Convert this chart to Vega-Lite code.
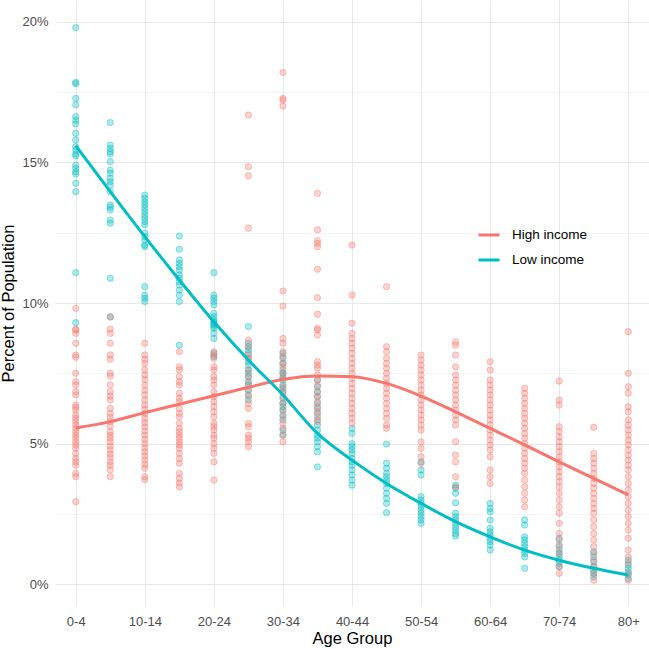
{
"$schema": "https://vega.github.io/schema/vega-lite/v6.json",
"width": 594, "height": 606,
"autosize": {"type": "none"},
"padding": {"left": 55, "top": 0, "right": 0, "bottom": 43},
"background": "white",
"config": {
 "view": {"stroke": null},
 "font": "Liberation Sans",
 "axis": {"domain": false, "ticks": false, "tickSize": 0, "gridColor": "#e8e8e8", "gridWidth": 1, "labelColor": "#4d4d4d", "labelFontSize": 13, "titleFontSize": 16.5, "titleFontWeight": "normal", "titleColor": "#000000"}
},
"datasets": {
 "points": [
{"age":"0-4","income":"Low income","pct":19.8},{"age":"0-4","income":"Low income","pct":17.85},{"age":"0-4","income":"Low income","pct":17.8},{"age":"0-4","income":"Low income","pct":17.28},{"age":"0-4","income":"Low income","pct":17.05},{"age":"0-4","income":"Low income","pct":16.63},{"age":"0-4","income":"Low income","pct":16.5},{"age":"0-4","income":"Low income","pct":16.37},{"age":"0-4","income":"Low income","pct":16.04},{"age":"0-4","income":"Low income","pct":15.8},{"age":"0-4","income":"Low income","pct":15.56},{"age":"0-4","income":"Low income","pct":15.44},{"age":"0-4","income":"Low income","pct":15.3},{"age":"0-4","income":"Low income","pct":15.23},{"age":"0-4","income":"Low income","pct":14.9},{"age":"0-4","income":"Low income","pct":14.79},{"age":"0-4","income":"Low income","pct":14.67},{"age":"0-4","income":"Low income","pct":14.59},{"age":"0-4","income":"Low income","pct":14.26},{"age":"0-4","income":"Low income","pct":13.96},{"age":"0-4","income":"Low income","pct":11.08},{"age":"0-4","income":"Low income","pct":9.3},
{"age":"0-4","income":"High income","pct":9.81},{"age":"0-4","income":"High income","pct":9.07},{"age":"0-4","income":"High income","pct":9.04},{"age":"0-4","income":"High income","pct":8.92},{"age":"0-4","income":"High income","pct":8.57},{"age":"0-4","income":"High income","pct":8.15},{"age":"0-4","income":"High income","pct":8.07},{"age":"0-4","income":"High income","pct":7.5},{"age":"0-4","income":"High income","pct":7.2},{"age":"0-4","income":"High income","pct":7.08},{"age":"0-4","income":"High income","pct":6.84},{"age":"0-4","income":"High income","pct":6.73},{"age":"0-4","income":"High income","pct":6.37},{"age":"0-4","income":"High income","pct":6.29},{"age":"0-4","income":"High income","pct":6.19},{"age":"0-4","income":"High income","pct":6.01},{"age":"0-4","income":"High income","pct":5.9},{"age":"0-4","income":"High income","pct":5.78},{"age":"0-4","income":"High income","pct":5.66},{"age":"0-4","income":"High income","pct":5.54},{"age":"0-4","income":"High income","pct":5.42},{"age":"0-4","income":"High income","pct":5.3},{"age":"0-4","income":"High income","pct":5.19},{"age":"0-4","income":"High income","pct":5.06},{"age":"0-4","income":"High income","pct":4.95},{"age":"0-4","income":"High income","pct":4.83},{"age":"0-4","income":"High income","pct":4.65},{"age":"0-4","income":"High income","pct":4.47},{"age":"0-4","income":"High income","pct":4.35},{"age":"0-4","income":"High income","pct":4.23},{"age":"0-4","income":"High income","pct":3.94},{"age":"0-4","income":"High income","pct":3.82},{"age":"0-4","income":"High income","pct":2.93},
{"age":"5-9","income":"Low income","pct":16.42},{"age":"5-9","income":"Low income","pct":15.62},{"age":"5-9","income":"Low income","pct":15.5},{"age":"5-9","income":"Low income","pct":15.38},{"age":"5-9","income":"Low income","pct":15.3},{"age":"5-9","income":"Low income","pct":15.03},{"age":"5-9","income":"Low income","pct":14.73},{"age":"5-9","income":"Low income","pct":14.62},{"age":"5-9","income":"Low income","pct":14.44},{"age":"5-9","income":"Low income","pct":14.32},{"age":"5-9","income":"Low income","pct":14.2},{"age":"5-9","income":"Low income","pct":13.96},{"age":"5-9","income":"Low income","pct":13.49},{"age":"5-9","income":"Low income","pct":13.41},{"age":"5-9","income":"Low income","pct":13.31},{"age":"5-9","income":"Low income","pct":12.95},{"age":"5-9","income":"Low income","pct":12.84},{"age":"5-9","income":"Low income","pct":10.88},{"age":"5-9","income":"Low income","pct":9.51},
{"age":"5-9","income":"High income","pct":9.5},{"age":"5-9","income":"High income","pct":9.07},{"age":"5-9","income":"High income","pct":8.92},{"age":"5-9","income":"High income","pct":8.57},{"age":"5-9","income":"High income","pct":8.15},{"age":"5-9","income":"High income","pct":8.0},{"age":"5-9","income":"High income","pct":7.5},{"age":"5-9","income":"High income","pct":7.4},{"age":"5-9","income":"High income","pct":7.08},{"age":"5-9","income":"High income","pct":6.84},{"age":"5-9","income":"High income","pct":6.69},{"age":"5-9","income":"High income","pct":6.55},{"age":"5-9","income":"High income","pct":6.25},{"age":"5-9","income":"High income","pct":6.07},{"age":"5-9","income":"High income","pct":5.93},{"age":"5-9","income":"High income","pct":5.78},{"age":"5-9","income":"High income","pct":5.62},{"age":"5-9","income":"High income","pct":5.42},{"age":"5-9","income":"High income","pct":5.3},{"age":"5-9","income":"High income","pct":5.19},{"age":"5-9","income":"High income","pct":5.06},{"age":"5-9","income":"High income","pct":4.91},{"age":"5-9","income":"High income","pct":4.77},{"age":"5-9","income":"High income","pct":4.63},{"age":"5-9","income":"High income","pct":4.51},{"age":"5-9","income":"High income","pct":4.35},{"age":"5-9","income":"High income","pct":4.23},{"age":"5-9","income":"High income","pct":4.06},{"age":"5-9","income":"High income","pct":3.82},
{"age":"10-14","income":"Low income","pct":13.84},{"age":"10-14","income":"Low income","pct":13.72},{"age":"10-14","income":"Low income","pct":13.6},{"age":"10-14","income":"Low income","pct":13.49},{"age":"10-14","income":"Low income","pct":13.37},{"age":"10-14","income":"Low income","pct":13.25},{"age":"10-14","income":"Low income","pct":13.13},{"age":"10-14","income":"Low income","pct":13.01},{"age":"10-14","income":"Low income","pct":12.89},{"age":"10-14","income":"Low income","pct":12.78},{"age":"10-14","income":"Low income","pct":12.48},{"age":"10-14","income":"Low income","pct":12.36},{"age":"10-14","income":"Low income","pct":12.24},{"age":"10-14","income":"Low income","pct":12.06},{"age":"10-14","income":"Low income","pct":12.0},{"age":"10-14","income":"Low income","pct":10.58},{"age":"10-14","income":"Low income","pct":10.28},{"age":"10-14","income":"Low income","pct":10.17},{"age":"10-14","income":"Low income","pct":10.05},
{"age":"10-14","income":"High income","pct":8.57},{"age":"10-14","income":"High income","pct":8.15},{"age":"10-14","income":"High income","pct":8.0},{"age":"10-14","income":"High income","pct":7.85},{"age":"10-14","income":"High income","pct":7.62},{"age":"10-14","income":"High income","pct":7.44},{"age":"10-14","income":"High income","pct":7.28},{"age":"10-14","income":"High income","pct":7.08},{"age":"10-14","income":"High income","pct":6.9},{"age":"10-14","income":"High income","pct":6.73},{"age":"10-14","income":"High income","pct":6.55},{"age":"10-14","income":"High income","pct":6.37},{"age":"10-14","income":"High income","pct":6.22},{"age":"10-14","income":"High income","pct":6.07},{"age":"10-14","income":"High income","pct":5.9},{"age":"10-14","income":"High income","pct":5.74},{"age":"10-14","income":"High income","pct":5.6},{"age":"10-14","income":"High income","pct":5.44},{"age":"10-14","income":"High income","pct":5.3},{"age":"10-14","income":"High income","pct":5.15},{"age":"10-14","income":"High income","pct":5.0},{"age":"10-14","income":"High income","pct":4.85},{"age":"10-14","income":"High income","pct":4.71},{"age":"10-14","income":"High income","pct":4.56},{"age":"10-14","income":"High income","pct":4.41},{"age":"10-14","income":"High income","pct":4.26},{"age":"10-14","income":"High income","pct":4.12},{"age":"10-14","income":"High income","pct":3.82},{"age":"10-14","income":"High income","pct":3.72},
{"age":"15-19","income":"Low income","pct":12.38},{"age":"15-19","income":"Low income","pct":11.91},{"age":"15-19","income":"Low income","pct":11.53},{"age":"15-19","income":"Low income","pct":11.41},{"age":"15-19","income":"Low income","pct":11.29},{"age":"15-19","income":"Low income","pct":11.17},{"age":"15-19","income":"Low income","pct":11.0},{"age":"15-19","income":"Low income","pct":10.88},{"age":"15-19","income":"Low income","pct":10.76},{"age":"15-19","income":"Low income","pct":10.64},{"age":"15-19","income":"Low income","pct":10.46},{"age":"15-19","income":"Low income","pct":10.28},{"age":"15-19","income":"Low income","pct":10.05},{"age":"15-19","income":"Low income","pct":8.5},
{"age":"15-19","income":"High income","pct":8.27},{"age":"15-19","income":"High income","pct":7.73},{"age":"15-19","income":"High income","pct":7.62},{"age":"15-19","income":"High income","pct":7.38},{"age":"15-19","income":"High income","pct":7.2},{"age":"15-19","income":"High income","pct":7.08},{"age":"15-19","income":"High income","pct":6.79},{"age":"15-19","income":"High income","pct":6.61},{"age":"15-19","income":"High income","pct":6.49},{"age":"15-19","income":"High income","pct":6.25},{"age":"15-19","income":"High income","pct":6.07},{"age":"15-19","income":"High income","pct":5.95},{"age":"15-19","income":"High income","pct":5.72},{"age":"15-19","income":"High income","pct":5.54},{"age":"15-19","income":"High income","pct":5.42},{"age":"15-19","income":"High income","pct":5.3},{"age":"15-19","income":"High income","pct":5.19},{"age":"15-19","income":"High income","pct":5.06},{"age":"15-19","income":"High income","pct":4.95},{"age":"15-19","income":"High income","pct":4.83},{"age":"15-19","income":"High income","pct":4.65},{"age":"15-19","income":"High income","pct":4.47},{"age":"15-19","income":"High income","pct":4.3},{"age":"15-19","income":"High income","pct":3.94},{"age":"15-19","income":"High income","pct":3.76},{"age":"15-19","income":"High income","pct":3.6},{"age":"15-19","income":"High income","pct":3.46},
{"age":"20-24","income":"Low income","pct":11.08},{"age":"20-24","income":"Low income","pct":10.28},{"age":"20-24","income":"Low income","pct":10.17},{"age":"20-24","income":"Low income","pct":10.05},{"age":"20-24","income":"Low income","pct":9.93},{"age":"20-24","income":"Low income","pct":9.63},{"age":"20-24","income":"Low income","pct":9.51},{"age":"20-24","income":"Low income","pct":9.4},{"age":"20-24","income":"Low income","pct":9.28},{"age":"20-24","income":"Low income","pct":9.16},{"age":"20-24","income":"Low income","pct":9.33},{"age":"20-24","income":"Low income","pct":9.22},{"age":"20-24","income":"Low income","pct":9.1},{"age":"20-24","income":"Low income","pct":8.92},{"age":"20-24","income":"Low income","pct":8.74},{"age":"20-24","income":"Low income","pct":8.21},{"age":"20-24","income":"Low income","pct":8.09},
{"age":"20-24","income":"High income","pct":8.27},{"age":"20-24","income":"High income","pct":8.15},{"age":"20-24","income":"High income","pct":8.03},{"age":"20-24","income":"High income","pct":7.73},{"age":"20-24","income":"High income","pct":7.62},{"age":"20-24","income":"High income","pct":7.38},{"age":"20-24","income":"High income","pct":7.26},{"age":"20-24","income":"High income","pct":7.08},{"age":"20-24","income":"High income","pct":6.84},{"age":"20-24","income":"High income","pct":6.67},{"age":"20-24","income":"High income","pct":6.49},{"age":"20-24","income":"High income","pct":6.31},{"age":"20-24","income":"High income","pct":6.13},{"age":"20-24","income":"High income","pct":5.95},{"age":"20-24","income":"High income","pct":5.72},{"age":"20-24","income":"High income","pct":5.6},{"age":"20-24","income":"High income","pct":5.48},{"age":"20-24","income":"High income","pct":5.3},{"age":"20-24","income":"High income","pct":5.19},{"age":"20-24","income":"High income","pct":5.0},{"age":"20-24","income":"High income","pct":4.83},{"age":"20-24","income":"High income","pct":4.65},{"age":"20-24","income":"High income","pct":4.35},{"age":"20-24","income":"High income","pct":3.7},
{"age":"25-29","income":"Low income","pct":9.16},{"age":"25-29","income":"Low income","pct":8.57},{"age":"25-29","income":"Low income","pct":8.45},{"age":"25-29","income":"Low income","pct":8.33},{"age":"25-29","income":"Low income","pct":8.21},{"age":"25-29","income":"Low income","pct":8.03},{"age":"25-29","income":"Low income","pct":7.91},{"age":"25-29","income":"Low income","pct":7.79},{"age":"25-29","income":"Low income","pct":7.62},{"age":"25-29","income":"Low income","pct":7.5},{"age":"25-29","income":"Low income","pct":7.38},{"age":"25-29","income":"Low income","pct":7.2},{"age":"25-29","income":"Low income","pct":7.08},{"age":"25-29","income":"Low income","pct":6.9},{"age":"25-29","income":"Low income","pct":6.73},{"age":"25-29","income":"Low income","pct":6.55},
{"age":"25-29","income":"High income","pct":16.69},{"age":"25-29","income":"High income","pct":14.85},{"age":"25-29","income":"High income","pct":14.52},{"age":"25-29","income":"High income","pct":12.66},{"age":"25-29","income":"High income","pct":8.68},{"age":"25-29","income":"High income","pct":8.45},{"age":"25-29","income":"High income","pct":8.15},{"age":"25-29","income":"High income","pct":8.03},{"age":"25-29","income":"High income","pct":7.62},{"age":"25-29","income":"High income","pct":7.38},{"age":"25-29","income":"High income","pct":7.14},{"age":"25-29","income":"High income","pct":6.9},{"age":"25-29","income":"High income","pct":6.67},{"age":"25-29","income":"High income","pct":6.43},{"age":"25-29","income":"High income","pct":6.25},{"age":"25-29","income":"High income","pct":5.72},{"age":"25-29","income":"High income","pct":5.6},{"age":"25-29","income":"High income","pct":5.3},{"age":"25-29","income":"High income","pct":5.19},{"age":"25-29","income":"High income","pct":5.06},{"age":"25-29","income":"High income","pct":4.89},
{"age":"30-34","income":"Low income","pct":8.21},{"age":"30-34","income":"Low income","pct":8.03},{"age":"30-34","income":"Low income","pct":7.85},{"age":"30-34","income":"Low income","pct":7.62},{"age":"30-34","income":"Low income","pct":7.5},{"age":"30-34","income":"Low income","pct":7.38},{"age":"30-34","income":"Low income","pct":7.26},{"age":"30-34","income":"Low income","pct":7.08},{"age":"30-34","income":"Low income","pct":6.96},{"age":"30-34","income":"Low income","pct":6.84},{"age":"30-34","income":"Low income","pct":6.61},{"age":"30-34","income":"Low income","pct":6.43},{"age":"30-34","income":"Low income","pct":6.31},{"age":"30-34","income":"Low income","pct":6.19},{"age":"30-34","income":"Low income","pct":6.01},{"age":"30-34","income":"Low income","pct":5.84},{"age":"30-34","income":"Low income","pct":5.48},{"age":"30-34","income":"Low income","pct":5.3},
{"age":"30-34","income":"High income","pct":18.2},{"age":"30-34","income":"High income","pct":17.28},{"age":"30-34","income":"High income","pct":17.22},{"age":"30-34","income":"High income","pct":17.01},{"age":"30-34","income":"High income","pct":10.43},{"age":"30-34","income":"High income","pct":9.89},{"age":"30-34","income":"High income","pct":8.74},{"age":"30-34","income":"High income","pct":8.57},{"age":"30-34","income":"High income","pct":8.27},{"age":"30-34","income":"High income","pct":8.09},{"age":"30-34","income":"High income","pct":7.85},{"age":"30-34","income":"High income","pct":7.73},{"age":"30-34","income":"High income","pct":7.5},{"age":"30-34","income":"High income","pct":7.32},{"age":"30-34","income":"High income","pct":7.02},{"age":"30-34","income":"High income","pct":6.84},{"age":"30-34","income":"High income","pct":6.67},{"age":"30-34","income":"High income","pct":6.43},{"age":"30-34","income":"High income","pct":6.19},{"age":"30-34","income":"High income","pct":5.95},{"age":"30-34","income":"High income","pct":5.72},{"age":"30-34","income":"High income","pct":5.54},{"age":"30-34","income":"High income","pct":5.3},{"age":"30-34","income":"High income","pct":5.06},
{"age":"35-39","income":"Low income","pct":7.26},{"age":"35-39","income":"Low income","pct":7.02},{"age":"35-39","income":"Low income","pct":6.84},{"age":"35-39","income":"Low income","pct":6.67},{"age":"35-39","income":"Low income","pct":6.43},{"age":"35-39","income":"Low income","pct":6.25},{"age":"35-39","income":"Low income","pct":6.07},{"age":"35-39","income":"Low income","pct":5.84},{"age":"35-39","income":"Low income","pct":5.66},{"age":"35-39","income":"Low income","pct":5.48},{"age":"35-39","income":"Low income","pct":5.3},{"age":"35-39","income":"Low income","pct":5.19},{"age":"35-39","income":"Low income","pct":5.06},{"age":"35-39","income":"Low income","pct":4.89},{"age":"35-39","income":"Low income","pct":4.71},{"age":"35-39","income":"Low income","pct":4.17},
{"age":"35-39","income":"High income","pct":13.9},{"age":"35-39","income":"High income","pct":12.6},{"age":"35-39","income":"High income","pct":12.22},{"age":"35-39","income":"High income","pct":12.12},{"age":"35-39","income":"High income","pct":12.0},{"age":"35-39","income":"High income","pct":11.2},{"age":"35-39","income":"High income","pct":10.19},{"age":"35-39","income":"High income","pct":9.6},{"age":"35-39","income":"High income","pct":9.1},{"age":"35-39","income":"High income","pct":9.04},{"age":"35-39","income":"High income","pct":8.86},{"age":"35-39","income":"High income","pct":7.91},{"age":"35-39","income":"High income","pct":7.79},{"age":"35-39","income":"High income","pct":7.68},{"age":"35-39","income":"High income","pct":7.44},{"age":"35-39","income":"High income","pct":7.26},{"age":"35-39","income":"High income","pct":7.08},{"age":"35-39","income":"High income","pct":6.84},{"age":"35-39","income":"High income","pct":6.67},{"age":"35-39","income":"High income","pct":6.49},{"age":"35-39","income":"High income","pct":6.31},{"age":"35-39","income":"High income","pct":6.13},{"age":"35-39","income":"High income","pct":5.95},{"age":"35-39","income":"High income","pct":5.78},
{"age":"40-44","income":"Low income","pct":5.54},{"age":"40-44","income":"Low income","pct":5.36},{"age":"40-44","income":"Low income","pct":5.0},{"age":"40-44","income":"Low income","pct":4.89},{"age":"40-44","income":"Low income","pct":4.77},{"age":"40-44","income":"Low income","pct":4.65},{"age":"40-44","income":"Low income","pct":4.47},{"age":"40-44","income":"Low income","pct":4.35},{"age":"40-44","income":"Low income","pct":4.23},{"age":"40-44","income":"Low income","pct":4.06},{"age":"40-44","income":"Low income","pct":3.88},{"age":"40-44","income":"Low income","pct":3.7},{"age":"40-44","income":"Low income","pct":3.52},
{"age":"40-44","income":"High income","pct":12.06},{"age":"40-44","income":"High income","pct":10.28},{"age":"40-44","income":"High income","pct":9.28},{"age":"40-44","income":"High income","pct":8.92},{"age":"40-44","income":"High income","pct":8.74},{"age":"40-44","income":"High income","pct":8.57},{"age":"40-44","income":"High income","pct":8.39},{"age":"40-44","income":"High income","pct":8.21},{"age":"40-44","income":"High income","pct":8.03},{"age":"40-44","income":"High income","pct":7.85},{"age":"40-44","income":"High income","pct":7.68},{"age":"40-44","income":"High income","pct":7.5},{"age":"40-44","income":"High income","pct":7.32},{"age":"40-44","income":"High income","pct":7.14},{"age":"40-44","income":"High income","pct":6.96},{"age":"40-44","income":"High income","pct":6.79},{"age":"40-44","income":"High income","pct":6.61},{"age":"40-44","income":"High income","pct":6.43},{"age":"40-44","income":"High income","pct":6.25},{"age":"40-44","income":"High income","pct":6.07},{"age":"40-44","income":"High income","pct":5.9},{"age":"40-44","income":"High income","pct":5.72},
{"age":"45-49","income":"Low income","pct":4.98},{"age":"45-49","income":"Low income","pct":4.3},{"age":"45-49","income":"Low income","pct":4.12},{"age":"45-49","income":"Low income","pct":3.94},{"age":"45-49","income":"Low income","pct":3.82},{"age":"45-49","income":"Low income","pct":3.7},{"age":"45-49","income":"Low income","pct":3.58},{"age":"45-49","income":"Low income","pct":3.41},{"age":"45-49","income":"Low income","pct":3.23},{"age":"45-49","income":"Low income","pct":3.05},{"age":"45-49","income":"Low income","pct":2.87},{"age":"45-49","income":"Low income","pct":2.54},
{"age":"45-49","income":"High income","pct":10.58},{"age":"45-49","income":"High income","pct":8.45},{"age":"45-49","income":"High income","pct":8.27},{"age":"45-49","income":"High income","pct":8.03},{"age":"45-49","income":"High income","pct":7.85},{"age":"45-49","income":"High income","pct":7.68},{"age":"45-49","income":"High income","pct":7.5},{"age":"45-49","income":"High income","pct":7.32},{"age":"45-49","income":"High income","pct":7.14},{"age":"45-49","income":"High income","pct":6.96},{"age":"45-49","income":"High income","pct":6.79},{"age":"45-49","income":"High income","pct":6.61},{"age":"45-49","income":"High income","pct":6.43},{"age":"45-49","income":"High income","pct":6.25},{"age":"45-49","income":"High income","pct":6.07},{"age":"45-49","income":"High income","pct":5.9},{"age":"45-49","income":"High income","pct":5.66},{"age":"45-49","income":"High income","pct":5.54},
{"age":"50-54","income":"Low income","pct":4.35},{"age":"50-54","income":"Low income","pct":4.06},{"age":"50-54","income":"Low income","pct":3.88},{"age":"50-54","income":"Low income","pct":3.11},{"age":"50-54","income":"Low income","pct":2.99},{"age":"50-54","income":"Low income","pct":2.87},{"age":"50-54","income":"Low income","pct":2.75},{"age":"50-54","income":"Low income","pct":2.63},{"age":"50-54","income":"Low income","pct":2.52},{"age":"50-54","income":"Low income","pct":2.4},{"age":"50-54","income":"Low income","pct":2.28},{"age":"50-54","income":"Low income","pct":2.16},
{"age":"50-54","income":"High income","pct":8.15},{"age":"50-54","income":"High income","pct":7.97},{"age":"50-54","income":"High income","pct":7.79},{"age":"50-54","income":"High income","pct":7.62},{"age":"50-54","income":"High income","pct":7.44},{"age":"50-54","income":"High income","pct":7.26},{"age":"50-54","income":"High income","pct":7.08},{"age":"50-54","income":"High income","pct":6.9},{"age":"50-54","income":"High income","pct":6.73},{"age":"50-54","income":"High income","pct":6.55},{"age":"50-54","income":"High income","pct":6.37},{"age":"50-54","income":"High income","pct":6.19},{"age":"50-54","income":"High income","pct":6.01},{"age":"50-54","income":"High income","pct":5.84},{"age":"50-54","income":"High income","pct":5.66},{"age":"50-54","income":"High income","pct":5.48},{"age":"50-54","income":"High income","pct":5.06},{"age":"50-54","income":"High income","pct":4.83},{"age":"50-54","income":"High income","pct":4.53},{"age":"50-54","income":"High income","pct":4.3},
{"age":"55-59","income":"Low income","pct":3.52},{"age":"55-59","income":"Low income","pct":3.41},{"age":"55-59","income":"Low income","pct":3.23},{"age":"55-59","income":"Low income","pct":2.89},{"age":"55-59","income":"Low income","pct":2.52},{"age":"55-59","income":"Low income","pct":2.4},{"age":"55-59","income":"Low income","pct":2.28},{"age":"55-59","income":"Low income","pct":2.16},{"age":"55-59","income":"Low income","pct":2.04},{"age":"55-59","income":"Low income","pct":1.92},{"age":"55-59","income":"Low income","pct":1.8},{"age":"55-59","income":"Low income","pct":1.71},
{"age":"55-59","income":"High income","pct":8.62},{"age":"55-59","income":"High income","pct":8.5},{"age":"55-59","income":"High income","pct":8.15},{"age":"55-59","income":"High income","pct":7.73},{"age":"55-59","income":"High income","pct":7.44},{"age":"55-59","income":"High income","pct":7.26},{"age":"55-59","income":"High income","pct":7.08},{"age":"55-59","income":"High income","pct":6.9},{"age":"55-59","income":"High income","pct":6.73},{"age":"55-59","income":"High income","pct":6.55},{"age":"55-59","income":"High income","pct":6.37},{"age":"55-59","income":"High income","pct":6.19},{"age":"55-59","income":"High income","pct":6.01},{"age":"55-59","income":"High income","pct":5.84},{"age":"55-59","income":"High income","pct":5.66},{"age":"55-59","income":"High income","pct":5.06},{"age":"55-59","income":"High income","pct":4.59},{"age":"55-59","income":"High income","pct":4.35},{"age":"55-59","income":"High income","pct":3.82},{"age":"55-59","income":"High income","pct":3.46},
{"age":"60-64","income":"Low income","pct":2.87},{"age":"60-64","income":"Low income","pct":2.69},{"age":"60-64","income":"Low income","pct":2.57},{"age":"60-64","income":"Low income","pct":2.28},{"age":"60-64","income":"Low income","pct":1.98},{"age":"60-64","income":"Low income","pct":1.86},{"age":"60-64","income":"Low income","pct":1.74},{"age":"60-64","income":"Low income","pct":1.63},{"age":"60-64","income":"Low income","pct":1.51},{"age":"60-64","income":"Low income","pct":1.39},{"age":"60-64","income":"Low income","pct":1.21},
{"age":"60-64","income":"High income","pct":7.91},{"age":"60-64","income":"High income","pct":7.62},{"age":"60-64","income":"High income","pct":7.26},{"age":"60-64","income":"High income","pct":7.08},{"age":"60-64","income":"High income","pct":6.9},{"age":"60-64","income":"High income","pct":6.73},{"age":"60-64","income":"High income","pct":6.55},{"age":"60-64","income":"High income","pct":6.37},{"age":"60-64","income":"High income","pct":6.19},{"age":"60-64","income":"High income","pct":6.01},{"age":"60-64","income":"High income","pct":5.84},{"age":"60-64","income":"High income","pct":5.66},{"age":"60-64","income":"High income","pct":5.48},{"age":"60-64","income":"High income","pct":5.3},{"age":"60-64","income":"High income","pct":5.12},{"age":"60-64","income":"High income","pct":4.95},{"age":"60-64","income":"High income","pct":4.77},{"age":"60-64","income":"High income","pct":4.53},{"age":"60-64","income":"High income","pct":4.06},{"age":"60-64","income":"High income","pct":3.82},{"age":"60-64","income":"High income","pct":3.58},
{"age":"65-69","income":"Low income","pct":2.28},{"age":"65-69","income":"Low income","pct":2.1},{"age":"65-69","income":"Low income","pct":1.68},{"age":"65-69","income":"Low income","pct":1.57},{"age":"65-69","income":"Low income","pct":1.45},{"age":"65-69","income":"Low income","pct":1.33},{"age":"65-69","income":"Low income","pct":1.21},{"age":"65-69","income":"Low income","pct":1.09},{"age":"65-69","income":"Low income","pct":0.97},{"age":"65-69","income":"Low income","pct":0.56},
{"age":"65-69","income":"High income","pct":6.96},{"age":"65-69","income":"High income","pct":6.79},{"age":"65-69","income":"High income","pct":6.61},{"age":"65-69","income":"High income","pct":6.43},{"age":"65-69","income":"High income","pct":6.25},{"age":"65-69","income":"High income","pct":6.07},{"age":"65-69","income":"High income","pct":5.9},{"age":"65-69","income":"High income","pct":5.72},{"age":"65-69","income":"High income","pct":5.54},{"age":"65-69","income":"High income","pct":5.36},{"age":"65-69","income":"High income","pct":5.19},{"age":"65-69","income":"High income","pct":5.0},{"age":"65-69","income":"High income","pct":4.83},{"age":"65-69","income":"High income","pct":4.65},{"age":"65-69","income":"High income","pct":4.47},{"age":"65-69","income":"High income","pct":4.3},{"age":"65-69","income":"High income","pct":4.12},{"age":"65-69","income":"High income","pct":3.94},{"age":"65-69","income":"High income","pct":3.7},{"age":"65-69","income":"High income","pct":3.46},{"age":"65-69","income":"High income","pct":3.23},{"age":"65-69","income":"High income","pct":2.99},{"age":"65-69","income":"High income","pct":2.75},
{"age":"70-74","income":"Low income","pct":1.63},{"age":"70-74","income":"Low income","pct":1.39},{"age":"70-74","income":"Low income","pct":1.21},{"age":"70-74","income":"Low income","pct":1.09},{"age":"70-74","income":"Low income","pct":0.97},{"age":"70-74","income":"Low income","pct":0.85},{"age":"70-74","income":"Low income","pct":0.74},{"age":"70-74","income":"Low income","pct":0.62},
{"age":"70-74","income":"High income","pct":7.22},{"age":"70-74","income":"High income","pct":6.55},{"age":"70-74","income":"High income","pct":6.37},{"age":"70-74","income":"High income","pct":5.6},{"age":"70-74","income":"High income","pct":5.42},{"age":"70-74","income":"High income","pct":5.24},{"age":"70-74","income":"High income","pct":5.06},{"age":"70-74","income":"High income","pct":4.89},{"age":"70-74","income":"High income","pct":4.71},{"age":"70-74","income":"High income","pct":4.53},{"age":"70-74","income":"High income","pct":4.35},{"age":"70-74","income":"High income","pct":4.17},{"age":"70-74","income":"High income","pct":4.0},{"age":"70-74","income":"High income","pct":3.82},{"age":"70-74","income":"High income","pct":3.64},{"age":"70-74","income":"High income","pct":3.46},{"age":"70-74","income":"High income","pct":3.23},{"age":"70-74","income":"High income","pct":2.99},{"age":"70-74","income":"High income","pct":2.75},{"age":"70-74","income":"High income","pct":2.52},{"age":"70-74","income":"High income","pct":2.16},{"age":"70-74","income":"High income","pct":1.8},{"age":"70-74","income":"High income","pct":1.57},{"age":"70-74","income":"High income","pct":1.33},{"age":"70-74","income":"High income","pct":1.09},{"age":"70-74","income":"High income","pct":0.62},{"age":"70-74","income":"High income","pct":0.38},
{"age":"75-79","income":"Low income","pct":1.15},{"age":"75-79","income":"Low income","pct":0.97},{"age":"75-79","income":"Low income","pct":0.79},{"age":"75-79","income":"Low income","pct":0.62},{"age":"75-79","income":"Low income","pct":0.5},{"age":"75-79","income":"Low income","pct":0.38},{"age":"75-79","income":"Low income","pct":0.26},
{"age":"75-79","income":"High income","pct":5.58},{"age":"75-79","income":"High income","pct":4.65},{"age":"75-79","income":"High income","pct":4.47},{"age":"75-79","income":"High income","pct":4.3},{"age":"75-79","income":"High income","pct":4.12},{"age":"75-79","income":"High income","pct":3.94},{"age":"75-79","income":"High income","pct":3.76},{"age":"75-79","income":"High income","pct":3.58},{"age":"75-79","income":"High income","pct":3.41},{"age":"75-79","income":"High income","pct":3.23},{"age":"75-79","income":"High income","pct":3.05},{"age":"75-79","income":"High income","pct":2.87},{"age":"75-79","income":"High income","pct":2.69},{"age":"75-79","income":"High income","pct":2.52},{"age":"75-79","income":"High income","pct":2.28},{"age":"75-79","income":"High income","pct":2.04},{"age":"75-79","income":"High income","pct":1.8},{"age":"75-79","income":"High income","pct":1.57},{"age":"75-79","income":"High income","pct":1.33},{"age":"75-79","income":"High income","pct":1.09},{"age":"75-79","income":"High income","pct":0.85},{"age":"75-79","income":"High income","pct":0.62},{"age":"75-79","income":"High income","pct":0.38},{"age":"75-79","income":"High income","pct":0.14},
{"age":"80+","income":"Low income","pct":0.85},{"age":"80+","income":"Low income","pct":0.68},{"age":"80+","income":"Low income","pct":0.56},{"age":"80+","income":"Low income","pct":0.44},{"age":"80+","income":"Low income","pct":0.32},{"age":"80+","income":"Low income","pct":0.2},
{"age":"80+","income":"High income","pct":8.98},{"age":"80+","income":"High income","pct":7.5},{"age":"80+","income":"High income","pct":7.02},{"age":"80+","income":"High income","pct":6.79},{"age":"80+","income":"High income","pct":6.31},{"age":"80+","income":"High income","pct":6.13},{"age":"80+","income":"High income","pct":5.84},{"age":"80+","income":"High income","pct":5.66},{"age":"80+","income":"High income","pct":5.48},{"age":"80+","income":"High income","pct":5.3},{"age":"80+","income":"High income","pct":5.12},{"age":"80+","income":"High income","pct":4.95},{"age":"80+","income":"High income","pct":4.77},{"age":"80+","income":"High income","pct":4.59},{"age":"80+","income":"High income","pct":4.41},{"age":"80+","income":"High income","pct":4.23},{"age":"80+","income":"High income","pct":4.06},{"age":"80+","income":"High income","pct":3.82},{"age":"80+","income":"High income","pct":3.58},{"age":"80+","income":"High income","pct":3.35},{"age":"80+","income":"High income","pct":3.11},{"age":"80+","income":"High income","pct":2.87},{"age":"80+","income":"High income","pct":2.63},{"age":"80+","income":"High income","pct":2.4},{"age":"80+","income":"High income","pct":2.16},{"age":"80+","income":"High income","pct":1.92},{"age":"80+","income":"High income","pct":1.63},{"age":"80+","income":"High income","pct":1.21},{"age":"80+","income":"High income","pct":0.97},{"age":"80+","income":"High income","pct":0.74},{"age":"80+","income":"High income","pct":0.38},{"age":"80+","income":"High income","pct":0.14}
 ],
 "smooth": [
{"age":"0-4","income":"High income","pct":5.55},{"age":"5-9","income":"High income","pct":5.78},{"age":"10-14","income":"High income","pct":6.1},{"age":"15-19","income":"High income","pct":6.4},{"age":"20-24","income":"High income","pct":6.7},{"age":"25-29","income":"High income","pct":7.0},{"age":"30-34","income":"High income","pct":7.28},{"age":"35-39","income":"High income","pct":7.4},{"age":"40-44","income":"High income","pct":7.38},{"age":"45-49","income":"High income","pct":7.14},{"age":"50-54","income":"High income","pct":6.69},{"age":"55-59","income":"High income","pct":6.13},{"age":"60-64","income":"High income","pct":5.54},{"age":"65-69","income":"High income","pct":4.95},{"age":"70-74","income":"High income","pct":4.35},{"age":"75-79","income":"High income","pct":3.76},{"age":"80+","income":"High income","pct":3.17},
{"age":"0-4","income":"Low income","pct":15.6},{"age":"5-9","income":"Low income","pct":13.96},{"age":"10-14","income":"Low income","pct":12.36},{"age":"15-19","income":"Low income","pct":10.82},{"age":"20-24","income":"Low income","pct":9.33},{"age":"25-29","income":"Low income","pct":7.97},{"age":"30-34","income":"Low income","pct":6.73},{"age":"35-39","income":"Low income","pct":5.36},{"age":"40-44","income":"Low income","pct":4.41},{"age":"45-49","income":"Low income","pct":3.58},{"age":"50-54","income":"Low income","pct":2.87},{"age":"55-59","income":"Low income","pct":2.22},{"age":"60-64","income":"Low income","pct":1.68},{"age":"65-69","income":"Low income","pct":1.21},{"age":"70-74","income":"Low income","pct":0.85},{"age":"75-79","income":"Low income","pct":0.56},{"age":"80+","income":"Low income","pct":0.32}
 ]
},
"encoding": {
 "x": {"field": "age", "type": "ordinal", "sort": ["0-4","5-9","10-14","15-19","20-24","25-29","30-34","35-39","40-44","45-49","50-54","55-59","60-64","65-69","70-74","75-79","80+"],
  "scale": {"type": "point", "padding": 0.6, "domain": ["0-4","5-9","10-14","15-19","20-24","25-29","30-34","35-39","40-44","45-49","50-54","55-59","60-64","65-69","70-74","75-79","80+"]},
  "axis": {"values": ["0-4","10-14","20-24","30-34","40-44","50-54","60-64","70-74","80+"], "title": "Age Group", "grid": true, "labelAngle": 0, "labelPadding": 9, "titlePadding": 2}},
 "y": {"field": "pct", "type": "quantitative",
  "scale": {"domain": [-0.78, 20.78], "nice": false, "zero": false},
  "axis": {"values": [0, 2.5, 5, 7.5, 10, 12.5, 15, 17.5, 20], "labelExpr": "datum.value % 5 === 0 ? datum.value + '%' : ''", "gridWidth": {"condition": {"test": "datum.value % 5 === 0", "value": 1}, "value": 0.5}, "title": "Percent of Population", "labelPadding": 7, "titlePadding": 5}}
},
"layer": [
 {"data": {"name": "points"}, "mark": {"type": "circle", "size": 40, "fillOpacity": 0.32, "strokeOpacity": 0.5, "strokeWidth": 0.8},
  "encoding": {"color": {"field": "income", "type": "nominal", "scale": {"domain": ["High income","Low income"], "range": ["#F8766D","#00BFC4"]}, "legend": null},
   "stroke": {"field": "income", "type": "nominal", "scale": {"domain": ["High income","Low income"], "range": ["#F8766D","#00BFC4"]}, "legend": null}}},
 {"data": {"name": "smooth"}, "mark": {"type": "line", "strokeWidth": 3, "interpolate": "monotone"},
  "encoding": {"color": {"field": "income", "type": "nominal", "scale": {"domain": ["High income","Low income"], "range": ["#F8766D","#00BFC4"]},
   "legend": {"orient": "none", "legendX": 422, "legendY": 223, "title": null, "symbolType": "stroke", "symbolStrokeWidth": 3, "symbolSize": 441, "labelFontSize": 13.5, "labelColor": "#000000", "rowPadding": 6, "labelOffset": 11, "padding": 0}}}}
],
"resolve": {"scale": {"color": "independent", "stroke": "independent"}}
}
